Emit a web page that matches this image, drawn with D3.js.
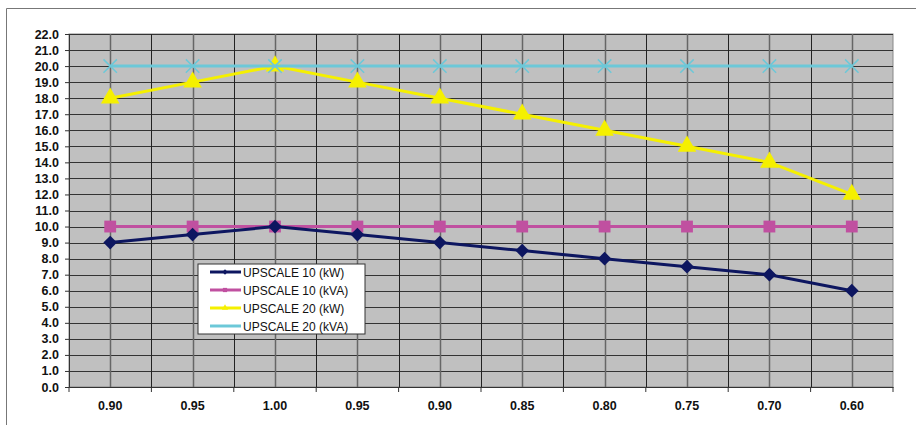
<!DOCTYPE html>
<html>
<head>
<meta charset="utf-8">
<script src="https://cdn.jsdelivr.net/npm/d3@7"></script>
<style>
  body { margin: 0; background: #fff; }
  svg text { font-family: "Liberation Sans", Arial, sans-serif; }
</style>
</head>
<body>
<div id="chart"></div>
<script>
// power factor categories along the bottom
const categories = ["0.90", "0.95", "1.00", "0.95", "0.90", "0.85", "0.80", "0.75", "0.70", "0.60"];

const up10kW  = [9, 9.5, 10, 9.5, 9, 8.5, 8, 7.5, 7, 6];
const up10kVA = [10, 10, 10, 10, 10, 10, 10, 10, 10, 10];
const up20kW  = [18, 19, 20, 19, 18, 17, 16, 15, 14, 12];
const up20kVA = [20, 20, 20, 20, 20, 20, 20, 20, 20, 20];

const seriesNames = ["UPSCALE 10 (kW)", "UPSCALE 10 (kVA)", "UPSCALE 20 (kW)", "UPSCALE 20 (kVA)"];
const yTicks = d3.range(0, 23, 1);

const W = 916, H = 425;
const m = { left: 69, right: 23, top: 34, bottom: 38 };

const svg = d3.select("#chart").append("svg")
    .attr("width", W).attr("height", H);

// outer frame (top + left only visible)
svg.append("path")
    .attr("d", "M6.5,425 V8.5 H916")
    .attr("fill", "none").attr("stroke", "#777").attr("stroke-width", 1);

const x = d3.scaleBand().domain(d3.range(categories.length))
    .range([m.left, W - m.right]);
const y = d3.scaleLinear().domain([0, 22]).range([H - m.bottom, m.top]);
const cx = i => x(i) + x.bandwidth() / 2;

const g = svg.append("g");

// plot area
g.append("rect")
    .attr("x", m.left).attr("y", m.top)
    .attr("width", W - m.left - m.right).attr("height", y(0) - m.top)
    .attr("fill", "#c0c0c0").attr("stroke", "#888");

// horizontal grid
g.selectAll(".hg").data(yTicks.slice(1)).join("line")
    .attr("x1", m.left).attr("x2", W - m.right)
    .attr("y1", d => Math.round(y(d)) + 0.5).attr("y2", d => Math.round(y(d)) + 0.5)
    .attr("stroke", "#333").attr("stroke-width", 1);

// vertical grid: category boundaries and centres
g.selectAll(".vb").data(d3.range(1, categories.length)).join("line")
    .attr("x1", d => Math.round(x(d)) + 0.5).attr("x2", d => Math.round(x(d)) + 0.5)
    .attr("y1", m.top).attr("y2", y(0))
    .attr("stroke", "#222").attr("stroke-width", 1);
g.selectAll(".vc").data(d3.range(categories.length)).join("line")
    .attr("x1", d => Math.round(cx(d)) + 0.5).attr("x2", d => Math.round(cx(d)) + 0.5)
    .attr("y1", m.top).attr("y2", y(0))
    .attr("stroke", "#666").attr("stroke-width", 1.5);

// y axis
const yAxis = svg.append("g")
    .attr("transform", `translate(${m.left},0)`)
    .call(d3.axisLeft(y).tickValues(yTicks).tickFormat(d3.format(".1f")).tickSize(4).tickPadding(6));
yAxis.select(".domain").attr("stroke", "#333");
yAxis.selectAll(".tick line").attr("stroke", "#333");
yAxis.selectAll("text").attr("font-size", 12.5).attr("font-weight", "bold").attr("fill", "#111");

// x axis
const xAxis = svg.append("g")
    .attr("transform", `translate(0,${y(0)})`)
    .call(d3.axisBottom(x).tickFormat(i => categories[i]).tickSize(0).tickPadding(14));
xAxis.select(".domain").attr("stroke", "#333");
xAxis.selectAll("text").attr("font-size", 12.5).attr("font-weight", "bold").attr("fill", "#111");
xAxis.selectAll(".bt").data(d3.range(0, categories.length + 1)).join("line")
    .attr("x1", d => d === categories.length ? W - m.right : x(d))
    .attr("x2", d => d === categories.length ? W - m.right : x(d))
    .attr("y1", 0).attr("y2", 5).attr("stroke", "#333");

const series = [
  { name: seriesNames[0], values: up10kW,  color: "#0d1660", marker: d3.symbolDiamond2, size: 120, width: 3 },
  { name: seriesNames[1], values: up10kVA, color: "#c050a0", marker: d3.symbolSquare,   size: 140, width: 3 },
  { name: seriesNames[2], values: up20kW,  color: "#f5f000", marker: d3.symbolTriangle, size: 150, width: 3 },
  { name: seriesNames[3], values: up20kVA, color: "#6cc8d8", marker: d3.symbolTimes,    size: 120, width: 3 }
];

const line = d3.line().x((d, i) => cx(i)).y(d => y(d));

// draw kVA 10 first, then kW 10, kW 20, kVA 20 on top
[1, 0, 2, 3].forEach(k => {
  const s = series[k];
  g.append("path").datum(s.values)
      .attr("d", line).attr("fill", "none")
      .attr("stroke", s.color).attr("stroke-width", s.width);
  g.selectAll(null).data(s.values).join("path")
      .attr("transform", (d, i) => `translate(${cx(i)},${y(d)})`)
      .attr("d", d3.symbol(s.marker, s.size))
      .attr("fill", s.marker === d3.symbolTimes ? "none" : s.color)
      .attr("stroke", s.marker === d3.symbolTimes ? s.color : "none")
      .attr("stroke-width", 1.5);
});

// legend
const lg = svg.append("g").attr("transform", "translate(198,264)");
lg.append("rect").attr("width", 167).attr("height", 70)
    .attr("fill", "#fff").attr("stroke", "#333");
series.forEach((s, k) => {
  const row = lg.append("g").attr("transform", `translate(0,${8 + k * 18})`);
  row.append("line").attr("x1", 12).attr("x2", 43)
      .attr("stroke", s.color).attr("stroke-width", 3);
  row.append("path").attr("transform", "translate(27,0)")
      .attr("d", d3.symbol(s.marker, 18))
      .attr("fill", s.color);
  row.append("text").attr("x", 45).attr("y", 4.5)
      .attr("font-size", 12).attr("fill", "#111").text(s.name);
});
</script>
</body>
</html>
